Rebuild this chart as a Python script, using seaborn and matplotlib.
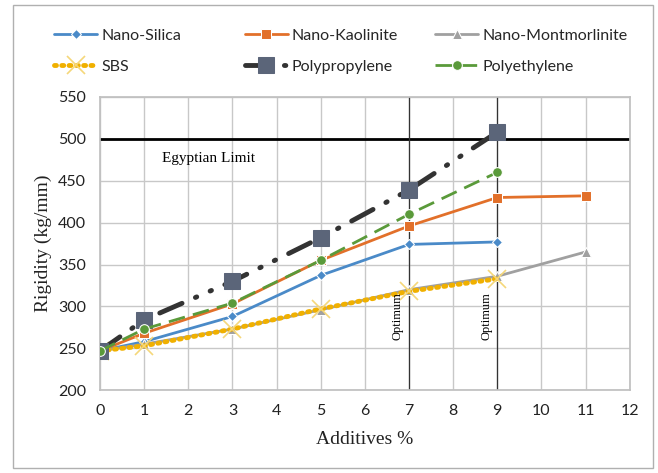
import matplotlib
matplotlib.use("Agg")
import matplotlib.pyplot as plt
import seaborn as sns
import pandas as pd
from matplotlib.patches import Rectangle

x6 = [0, 1, 3, 5, 7, 9]
x7 = [0, 1, 3, 5, 7, 9, 11]
nano_silica = [247, 258, 288, 337, 374, 377]
nano_kaolinite = [247, 268, 303, 355, 396, 430, 432]
nano_montmorlinite = [247, 255, 273, 296, 320, 336, 365]
sbs = [247, 253, 273, 297, 318, 333]
polypropylene = [247, 284, 330, 382, 439, 508]
polyethylene = [247, 273, 304, 355, 410, 460]
egyptian_limit = 500
optimum_x = [7, 9]
xticks = list(range(0, 13))
yticks = list(range(200, 551, 50))

sns.set_theme(style="whitegrid")
plt.rcParams['font.family'] = ['Lato', 'DejaVu Sans']

fig = plt.figure(figsize=(6.58, 4.73), dpi=100)
ax = fig.add_axes([0.152, 0.175, 0.805, 0.62])

ax.axhline(egyptian_limit, color="black", lw=2, zorder=2)
for xv in optimum_x:
    ax.axvline(xv, color="#333333", lw=0.9, zorder=2)

series = [
    ("Nano-Silica", x6, nano_silica, dict(color="#4a8ac8", lw=2, marker="D", markersize=5, linestyle="-")),
    ("Nano-Kaolinite", x7, nano_kaolinite, dict(color="#e2702a", lw=2, marker="s", markersize=7, linestyle="-")),
    ("Nano-Montmorlinite", x7, nano_montmorlinite, dict(color="#a0a0a0", lw=2, marker="^", markersize=7, linestyle="-")),
    ("SBS", x6, sbs, dict(color="#f0b000", lw=3.5, marker="x", markersize=13, markeredgecolor="#f5d77a", markeredgewidth=1.2, linestyle=(0, (0.4, 1.1)), dash_capstyle="round")),
    ("Polypropylene", x6, polypropylene, dict(color="#333333", lw=3.5, marker="s", markersize=11, markerfacecolor="#5b6579", markeredgecolor="#5b6579", linestyle=(0, (5, 3, 0.3, 3, 0.3, 3)), dash_capstyle="round")),
    ("Polyethylene", x6, polyethylene, dict(color="#5a9a3a", lw=2, marker="o", markersize=7, linestyle=(0, (6, 3)))),
]

for name, xs, ys, kw in series:
    df = pd.DataFrame({"x": xs, "y": ys})
    sns.lineplot(data=df, x="x", y="y", ax=ax, label=name, zorder=3, **kw)

ax.set_xlim(0, 12)
ax.set_ylim(200, 550)
ax.set_xticks(xticks)
ax.set_yticks(yticks)
ax.grid(True, color="#c8c8c8", lw=1)
for s in ax.spines.values():
    s.set_color("#c0c0c0")
ax.tick_params(axis="both", labelsize=11.5, colors="#222222", length=0, pad=10)
ax.set_xlabel("Additives %", family=["Liberation Serif"], fontsize=14, color="#222222", labelpad=9)
ax.set_ylabel("Rigidity (kg/mm)", family=["Liberation Serif"], fontsize=14, color="#222222")

ax.text(1.4, 472, "Egyptian Limit", family=["Liberation Serif"], fontsize=11, color="black", zorder=4)
for xv in optimum_x:
    ax.text(xv - 0.25, 288, "Optimum", family=["Liberation Serif"], fontsize=9, rotation=90,
            ha="center", va="center", color="black", zorder=4)

handles, labels = ax.get_legend_handles_labels()
ax.get_legend().remove()
col_x = [0.082, 0.372, 0.661]
pairs = [(0, 3), (1, 4), (2, 5)]
for cx, (a, b) in zip(col_x, pairs):
    fig.legend([handles[a], handles[b]], [labels[a], labels[b]], loc="upper left",
               bbox_to_anchor=(cx, 0.94), ncol=1, frameon=False, fontsize=11.5,
               handlelength=2.7, handletextpad=0.25, labelspacing=1.05,
               borderpad=0, borderaxespad=0)

fig.patches.append(Rectangle((0.0198, 0.0106), 0.973, 0.979, transform=fig.transFigure,
                             fill=False, edgecolor="#b0b0b0", lw=1))

fig.savefig("out.png", dpi=100)
